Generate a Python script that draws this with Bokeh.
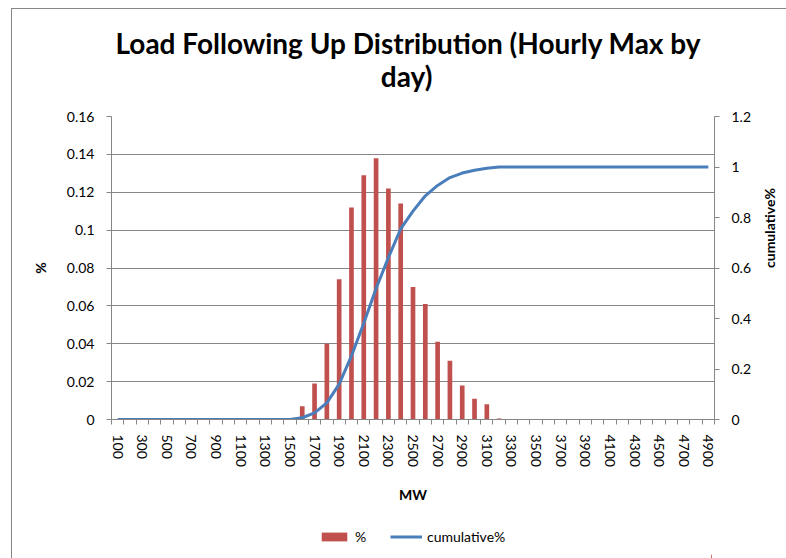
import math
from bokeh.plotting import figure
from bokeh.layouts import column
from bokeh.models import (Range1d, LinearAxis, FixedTicker, Legend, LegendItem,
                          ColumnDataSource)
from bokeh.embed import file_html
from bokeh.resources import INLINE

# ---------------- data ----------------
mw = [100, 200, 300, 400, 500, 600, 700, 800, 900, 1000,
      1100, 1200, 1300, 1400, 1500, 1600, 1700, 1800, 1900, 2000,
      2100, 2200, 2300, 2400, 2500, 2600, 2700, 2800, 2900, 3000,
      3100, 3200, 3300, 3400, 3500, 3600, 3700, 3800, 3900, 4000,
      4100, 4200, 4300, 4400, 4500, 4600, 4700, 4800, 4900]

pct = [0, 0, 0, 0, 0, 0, 0, 0, 0, 0,
       0, 0, 0, 0, 0, 0.007, 0.019, 0.040, 0.074, 0.112,
       0.129, 0.138, 0.122, 0.114, 0.070, 0.061, 0.041, 0.031, 0.018, 0.011,
       0.008, 0.0005, 0, 0, 0, 0, 0, 0, 0, 0,
       0, 0, 0, 0, 0, 0, 0, 0, 0]

cumulative = [0, 0, 0, 0, 0, 0, 0, 0, 0, 0,
              0, 0, 0, 0, 0, 0.007, 0.026, 0.066, 0.140, 0.252,
              0.381, 0.519, 0.641, 0.755, 0.825, 0.886, 0.927, 0.958, 0.976, 0.987,
              0.995, 1.0, 1.0, 1.0, 1.0, 1.0, 1.0, 1.0, 1.0, 1.0,
              1.0, 1.0, 1.0, 1.0, 1.0, 1.0, 1.0, 1.0, 1.0]

x_tick_values = [100, 300, 500, 700, 900, 1100, 1300, 1500, 1700, 1900, 2100, 2300,
                 2500, 2700, 2900, 3100, 3300, 3500, 3700, 3900, 4100, 4300, 4500,
                 4700, 4900]
x_tick_labels = ["100", "300", "500", "700", "900", "1100", "1300", "1500", "1700",
                 "1900", "2100", "2300", "2500", "2700", "2900", "3100", "3300", "3500",
                 "3700", "3900", "4100", "4300", "4500", "4700", "4900"]

y_left_ticks = [0, 0.02, 0.04, 0.06, 0.08, 0.1, 0.12, 0.14, 0.16]
y_left_labels = ["0", "0.02", "0.04", "0.06", "0.08", "0.1", "0.12", "0.14", "0.16"]

y_right_ticks = [0, 0.2, 0.4, 0.6, 0.8, 1.0, 1.2]
y_right_labels = ["0", "0.2", "0.4", "0.6", "0.8", "1", "1.2"]

title_line1 = "Load Following Up Distribution (Hourly Max by"
title_line2 = "day)"
x_label = "MW"
bar_label = "%"
line_label = "cumulative%"

# ---------------- styles ----------------
FONT = "Lato"
GRAY = "#868686"
BAR_COLOR = "#C0504D"
LINE_COLOR = "#4A7EBB"

src = ColumnDataSource(dict(mw=mw, pct=pct, cum=cumulative))

# second title line is centred under the first one with non-breaking spaces
title_text = title_line1 + "\n" + "\u00a0" * 39 + title_line2

p = figure(frame_width=603, frame_height=303,
           x_range=Range1d(50, 4950), y_range=Range1d(0, 0.16),
           output_backend="svg", toolbar_location=None,
           min_border_left=111, min_border_right=72,
           min_border_top=115, min_border_bottom=102,
           title=title_text)
p.extra_y_ranges = {"cum": Range1d(0, 1.2)}

p.border_fill_color = None
p.background_fill_color = "white"
p.outline_line_color = None

# title
p.title.text_font = FONT
p.title.text_font_size = "28px"
p.title.text_font_style = "bold"
p.title.text_color = "black"
p.title.align = "left"
p.title.offset = 4
p.title.standoff = 47
p.title.text_line_height = 0.96

# glyphs
bars = p.vbar(x="mw", top="pct", width=38, source=src,
              fill_color=BAR_COLOR, line_color=None)
line = p.line(x="mw", y="cum", source=src, y_range_name="cum",
              line_color=LINE_COLOR, line_width=3)

# x axis
xa = p.xaxis[0]
minor = [m - 50 for m in mw] + [mw[-1] + 50]
xa.ticker = FixedTicker(ticks=x_tick_values, minor_ticks=minor)
xa.major_label_overrides = dict(zip(x_tick_values, x_tick_labels))
xa.major_label_orientation = "vertical"
xa.major_tick_line_color = None
xa.major_tick_out = 5
xa.major_tick_in = 0
xa.minor_tick_line_color = GRAY
xa.minor_tick_out = 5
xa.minor_tick_in = 0
xa.axis_line_color = GRAY
xa.major_label_standoff = 10
xa.major_label_text_font = FONT
xa.major_label_text_font_size = "14px"
xa.major_label_text_color = "black"
xa.axis_label = x_label
xa.axis_label_text_font = FONT
xa.axis_label_text_font_size = "14px"
xa.axis_label_text_font_style = "bold"
xa.axis_label_text_color = "black"
xa.axis_label_standoff = 16

# left y axis
ya = p.yaxis[0]
ya.ticker = FixedTicker(ticks=y_left_ticks)
ya.major_label_overrides = dict(zip(y_left_ticks, y_left_labels))
ya.minor_tick_line_color = None
ya.major_tick_out = 5
ya.major_tick_in = 0
ya.major_tick_line_color = GRAY
ya.axis_line_color = GRAY
ya.major_label_standoff = 12
ya.major_label_text_font = FONT
ya.major_label_text_font_size = "14px"
ya.major_label_text_color = "black"
ya.axis_label = bar_label
ya.axis_label_text_font = FONT
ya.axis_label_text_font_size = "14px"
ya.axis_label_text_font_style = "bold"
ya.axis_label_text_color = "black"
ya.axis_label_standoff = 15

# right y axis
ra = LinearAxis(y_range_name="cum", ticker=FixedTicker(ticks=y_right_ticks))
ra.major_label_overrides = dict(zip(y_right_ticks, y_right_labels))
ra.minor_tick_line_color = None
ra.major_tick_out = 5
ra.major_tick_in = 0
ra.major_tick_line_color = GRAY
ra.axis_line_color = GRAY
ra.major_label_standoff = 12
ra.major_label_text_font = FONT
ra.major_label_text_font_size = "14px"
ra.major_label_text_color = "black"
ra.axis_label = line_label
ra.axis_label_orientation = math.pi / 2
ra.axis_label_text_font = FONT
ra.axis_label_text_font_size = "14px"
ra.axis_label_text_font_style = "bold"
ra.axis_label_text_color = "black"
ra.axis_label_standoff = 15
p.add_layout(ra, "right")

# grid
p.xgrid.visible = False
p.ygrid.ticker = FixedTicker(ticks=y_left_ticks)
p.ygrid.grid_line_color = GRAY
p.ygrid.grid_line_width = 1

# ---------------- legend strip (own small figure below the chart) ----------------
# the key glyphs use the same data, but fall outside this strip's ranges
lg = figure(width=786, height=38, x_range=Range1d(0, 1), y_range=Range1d(0, 1),
            output_backend="svg", toolbar_location=None, min_border=0)
lg.axis.visible = False
lg.grid.visible = False
lg.outline_line_color = None
lg.border_fill_color = None
lg.background_fill_color = None
key_bar = lg.vbar(x="mw", top="pct", width=38, source=src,
                  fill_color=BAR_COLOR, line_color=None)
key_line = lg.line(x="mw", y="cum", source=src,
                   line_color=LINE_COLOR, line_width=3)

legend = Legend(items=[LegendItem(label=bar_label, renderers=[key_bar]),
                       LegendItem(label=line_label, renderers=[key_line])],
                orientation="horizontal", location=(207, 14),
                border_line_color=None, background_fill_alpha=0,
                padding=0, margin=0, glyph_width=32, glyph_height=11,
                label_height=14, label_standoff=5, spacing=15,
                label_text_font=FONT, label_text_font_size="14px",
                label_text_color="black")
lg.add_layout(legend, "center")

layout = column(p, lg, spacing=0)
layout.styles = {"box-shadow": "inset 11px 8px 0 0 #ffffff, inset 12px 9px 0 0 #868686"}

open("out.html", "w").write(file_html(layout, INLINE))
